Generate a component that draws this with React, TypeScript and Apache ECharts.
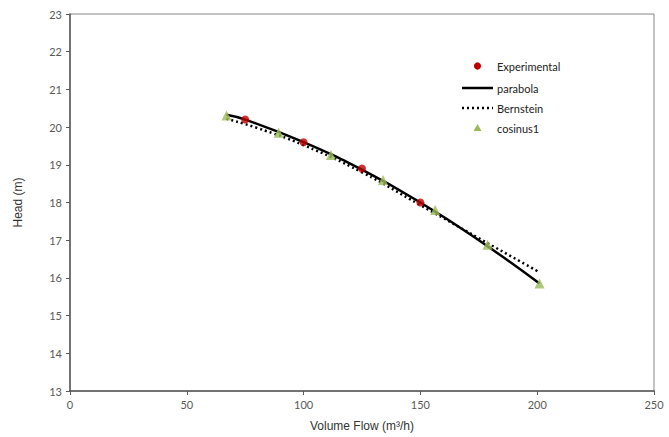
import React, { useEffect, useRef } from "react";
import * as echarts from "echarts";

const experimental: [number, number][] = [
  [75, 20.2],
  [100, 19.6],
  [125, 18.9],
  [150, 18.0],
];
const parabola: [number, number][] = [
  [67, 20.33],
  [75, 20.2],
  [100, 19.6],
  [125, 18.87],
  [150, 18.0],
  [175, 17.0],
  [201, 15.85],
];
const bernstein: [number, number][] = [
  [67, 20.22],
  [80, 19.98],
  [100, 19.52],
  [125, 18.8],
  [150, 17.93],
  [180, 16.88],
  [201, 16.15],
];
const cosinus1: [number, number][] = [
  [67, 20.31],
  [89.3, 19.85],
  [111.7, 19.26],
  [134, 18.6],
  [156.3, 17.8],
  [178.7, 16.88],
  [201, 15.85],
];
const legendNames = ["Experimental", "parabola", "Bernstein", "cosinus1"];

const xMin = 0, xMax = 250, xStep = 50;
const yMin = 13, yMax = 23, yStep = 1;

export default function App() {
  const ref = useRef<HTMLDivElement>(null);
  useEffect(() => {
    if (!ref.current) return;
    const chart = echarts.init(ref.current, undefined, { renderer: "svg" });
    const tickFont = { fontFamily: "Lato", fontSize: 11, color: "#595959" };
    const lx = 462, lw = 31, tx = 497;
    const ly = [66, 88, 108, 128];
    const textStyle = (i: number) => ({
      type: "text",
      x: tx,
      y: ly[i],
      style: { text: legendNames[i], fontFamily: "Lato", fontSize: 11, fill: "#222", verticalAlign: "middle", align: "left" },
    });
    chart.setOption({
      animation: false,
      backgroundColor: "#fff",
      grid: { left: 70, right: 15, top: 14, bottom: 44, show: true, borderColor: "#868686", borderWidth: 1 },
      graphic: [
        { type: "circle", shape: { cx: lx + lw / 2, cy: ly[0], r: 3.6 }, style: { fill: "#C00000" } },
        textStyle(0),
        { type: "line", shape: { x1: lx, y1: ly[1], x2: lx + lw, y2: ly[1] }, style: { stroke: "#000", lineWidth: 2.5 } },
        textStyle(1),
        { type: "line", shape: { x1: lx, y1: ly[2], x2: lx + lw, y2: ly[2] }, style: { stroke: "#000", lineWidth: 2.5, lineDash: [2, 3] } },
        textStyle(2),
        {
          type: "polygon",
          shape: { points: [[lx + lw / 2, ly[3] - 4], [lx + lw / 2 + 4, ly[3] + 3], [lx + lw / 2 - 4, ly[3] + 3]] },
          style: { fill: "#9BBB59" },
        },
        textStyle(3),
      ],
      xAxis: {
        type: "value",
        min: xMin,
        max: xMax,
        interval: xStep,
        name: "Volume Flow (m³/h)",
        nameLocation: "middle",
        nameGap: 29,
        nameTextStyle: { fontFamily: "Liberation Sans", fontSize: 12, color: "#333" },
        axisLine: { show: true, lineStyle: { color: "#595959", width: 1.5 } },
        axisTick: { show: true, length: 4, lineStyle: { color: "#595959" } },
        axisLabel: { ...tickFont, margin: 8 },
        splitLine: { show: false },
      },
      yAxis: {
        type: "value",
        min: yMin,
        max: yMax,
        interval: yStep,
        name: "Head (m)",
        nameLocation: "middle",
        nameGap: 46,
        nameTextStyle: { fontFamily: "Liberation Sans", fontSize: 12, color: "#333" },
        axisLine: { show: true, lineStyle: { color: "#595959", width: 1.5 } },
        axisTick: { show: true, length: 4, lineStyle: { color: "#595959" } },
        axisLabel: { ...tickFont, margin: 8 },
        splitLine: { show: false },
      },
      series: [
        {
          name: "parabola",
          type: "line",
          data: parabola,
          smooth: true,
          showSymbol: false,
          symbol: "none",
          lineStyle: { color: "#000", width: 2.5, type: "solid" },
          z: 2,
        },
        {
          name: "Bernstein",
          type: "line",
          data: bernstein,
          smooth: true,
          showSymbol: false,
          symbol: "none",
          lineStyle: { color: "#000", width: 2.5, type: [2, 3] },
          z: 2,
        },
        {
          name: "Experimental",
          type: "scatter",
          data: experimental,
          symbol: "circle",
          symbolSize: 8,
          itemStyle: { color: "#C00000" },
          z: 4,
        },
        {
          name: "cosinus1",
          type: "scatter",
          data: cosinus1,
          symbol: "triangle",
          symbolSize: 10,
          itemStyle: { color: "#9BBB59" },
          z: 3,
        },
      ],
    });
    return () => chart.dispose();
  }, []);
  return <div ref={ref} style={{ width: 669, height: 437, position: "absolute", left: 0, top: 0 }} />;
}
